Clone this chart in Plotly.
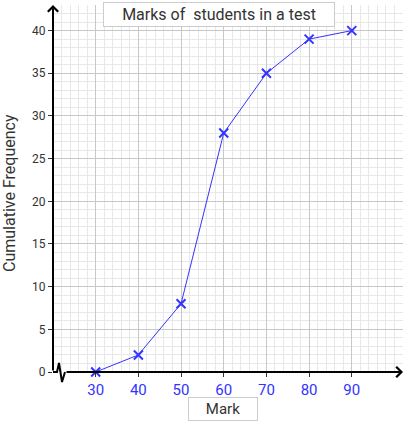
import plotly.graph_objects as go

# cumulative frequency data
marks = [30, 40, 50, 60, 70, 80, 90]
cum_freq = [0, 2, 8, 28, 35, 39, 40]
x_ticks = [30, 40, 50, 60, 70, 80, 90]
y_ticks = [0, 5, 10, 15, 20, 25, 30, 35, 40]

blue = "#3333ff"
W, H = 407, 436
ml, mr, mt, mb = 53, 4, 5, 64
pw, ph = W - ml - mr, H - mt - mb

fig = go.Figure()
fig.add_trace(go.Scatter(
    x=marks, y=cum_freq,
    mode="lines+markers",
    line=dict(color=blue, width=1),
    marker=dict(symbol="x-thin", size=9, line=dict(color=blue, width=2)),
    hoverinfo="skip",
    cliponaxis=False
))

# zigzag break on the x axis, in paper coordinates
def px_x(p):
    return p / pw

def px_y(p):
    return p / ph

# pixel position on the page -> paper fraction
def page_x(p):
    return (p - ml) / pw

def page_y(p):
    return 1 - (p - mt) / ph

zig = "M 0,0 L {a},0 L {b},{c} L {d},{e} L {f},0".format(
    a=px_x(4), b=px_x(6), c=px_y(9), d=px_x(9), e=-px_y(10), f=px_x(12))

fig.update_layout(
    width=W, height=H,
    margin=dict(l=ml, r=mr, t=mt, b=mb, autoexpand=False),
    paper_bgcolor="white",
    plot_bgcolor="white",
    showlegend=False,
    font=dict(family="Roboto", color="#333333"),
    xaxis=dict(
        range=[20, 102],
        tickvals=x_ticks,
        ticks="outside", ticklen=4, tickcolor="#333333",
        tickfont=dict(size=15, color=blue),
        showgrid=True, gridcolor="#c8c8c8", gridwidth=1,
        minor=dict(dtick=2, tick0=0, showgrid=True, gridcolor="#e8e8e8"),
        zeroline=False, showline=False, automargin=False,
    ),
    yaxis=dict(
        range=[0, 43],
        tickvals=y_ticks,
        ticks="outside", ticklen=4, tickcolor="#333333",
        tickfont=dict(size=12, color="#333333"),
        showgrid=True, gridcolor="#c8c8c8", gridwidth=1,
        minor=dict(dtick=1, showgrid=True, gridcolor="#e8e8e8"),
        zeroline=False, showline=False, automargin=False,
    ),
    shapes=[
        dict(type="path", xref="paper", yref="paper", path=zig,
             line=dict(color="black", width=2)),
    ],
    annotations=[
        # axes with arrowheads
        dict(x=1, y=0, xref="paper", yref="paper", ax=-(pw - 12), ay=0,
             text="", showarrow=True, arrowhead=4, arrowsize=1,
             arrowwidth=2, arrowcolor="black"),
        dict(x=0, y=1, xref="paper", yref="paper", ax=0, ay=ph,
             text="", showarrow=True, arrowhead=4, arrowsize=1,
             arrowwidth=2, arrowcolor="black"),
        # title box
        dict(x=page_x(219), y=page_y(14), xref="paper", yref="paper",
             xanchor="center", yanchor="middle",
             text="Marks of  students in a test", showarrow=False,
             font=dict(size=16, color="#333333"),
             bgcolor="white", bordercolor="#cccccc", borderwidth=1,
             borderpad=2, width=226),
        # x axis label box
        dict(x=page_x(223), y=page_y(409), xref="paper", yref="paper",
             xanchor="center", yanchor="middle",
             text="Mark", showarrow=False,
             font=dict(size=15, color="#333333"),
             bgcolor="white", bordercolor="#cccccc", borderwidth=1,
             borderpad=2, width=64),
        # y axis label
        dict(x=page_x(9), y=page_y(193), xref="paper", yref="paper",
             xanchor="center", yanchor="middle",
             text="Cumulative Frequency", showarrow=False, textangle=-90,
             font=dict(size=16, color="#333333")),
    ],
)

# page body has a default 8px margin, drop it so the figure fills the window
fig.write_html("out.html", config={"displayModeBar": False},
               post_script="document.body.style.margin='0px';")
